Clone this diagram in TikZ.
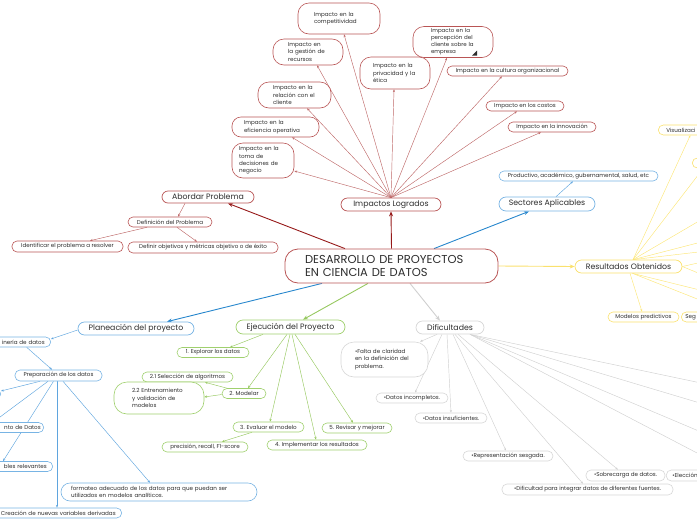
\documentclass[tikz,border=0pt]{standalone}
\usepackage{fontspec}
\setmainfont{Poppins}
\usetikzlibrary{arrows.meta}
\definecolor{txt}{RGB}{45,45,45}
\definecolor{rb}{RGB}{185,85,85}
\definecolor{rl}{RGB}{190,105,105}
\definecolor{rd}{RGB}{150,25,25}
\definecolor{bb}{RGB}{120,180,228}
\definecolor{bt}{RGB}{95,165,222}
\definecolor{bl}{RGB}{40,135,205}
\definecolor{gb}{RGB}{160,208,110}
\definecolor{gl}{RGB}{150,200,95}
\definecolor{yb}{RGB}{250,225,110}
\definecolor{yl}{RGB}{252,230,120}
\definecolor{gyb}{RGB}{215,215,215}
\definecolor{gyl}{RGB}{208,208,208}
\pgfdeclarelayer{bg}
\pgfsetlayers{bg,main}
\newcommand\myfs{\fontsize{5.6}{7.4}\selectfont}
\newcommand\myfm{\fontsize{7.8}{9}\selectfont}
\newcommand\myfl{\fontsize{11.5}{13.8}\selectfont}
\tikzset{
  bx/.style={draw, fill=white, line width=0.6pt, inner sep=0pt, text=txt, font=\myfs, align=center, minimum height=10pt,
    execute at begin node={\hyphenpenalty=10000\exhyphenpenalty=10000}},
  pill/.style={bx, rounded corners=5pt},
  big/.style={bx, rounded corners=6.5pt, font=\myfm, line width=0.7pt, minimum height=13pt},
  ml/.style={bx, rounded corners=11pt, align=left},
  con/.style={line width=0.45pt},
  tip/.style={-{Stealth[length=2.8pt,width=2.2pt]}},
  mainarr/.style={line width=0.9pt,-{Stealth[length=5pt,width=4pt]}},
}
\begin{document}
\begin{tikzpicture}[x=1pt,y=-1pt]
\useasboundingbox (0,0) rectangle (697,520);
\clip (0,0) rectangle (697,520);
% ---------- central
\node[bx, draw=rb, rounded corners=13pt, font=\myfl, align=left, text width=173pt, inner xsep=20pt, minimum height=34pt, line width=0.8pt] (c) at (391.5,266) {DESARROLLO DE PROYECTOS\\EN CIENCIA DE DATOS};
% ---------- impactos
\node[big, draw=rb, minimum width=100pt] (imp) at (391,204.5) {Impactos Logrados};
\node[ml, draw=rb, text width=50pt, inner xsep=16pt, minimum height=31pt] (imp1) at (339,18.5) {\mbox{Impacto en la}\\\mbox{competitividad}};
\node[ml, draw=rb, text width=40pt, inner xsep=15pt, minimum height=26pt] (imp2) at (308,52) {\mbox{Impacto en}\\\mbox{la gestión de}\\\mbox{recursos}};
\node[ml, draw=rb, text width=44pt, inner xsep=13pt, minimum height=32pt] (imp3) at (395,73) {\mbox{Impacto en la}\\\mbox{privacidad y la}\\\mbox{ética}};
\node[ml, draw=rb, text width=43pt, inner xsep=15pt, minimum height=26pt] (imp4) at (294.5,95) {\mbox{Impacto en la}\\\mbox{relación con el}\\\mbox{cliente}};
\node[ml, draw=rb, text width=63pt, inner xsep=12pt, minimum height=20pt, rounded corners=9pt] (imp5) at (275.5,127) {\mbox{Impacto en la}\\\mbox{eficiencia operativa}};
\node[ml, draw=rb, text width=48pt, inner xsep=7pt, minimum height=35pt] (imp6) at (263,160.5) {\mbox{Impacto en la}\\\mbox{toma de}\\\mbox{decisiones de}\\\mbox{negocio}};
\node[ml, draw=rb, text width=44pt, inner xsep=18pt, minimum height=31pt, font=\fontsize{5.5}{7}\selectfont] (imp7) at (453,42) {\mbox{Impacto en la}\\\mbox{percepción del}\\\mbox{cliente sobre la}\\\mbox{empresa}};
\fill[txt] (472,55.5) -- (477,55.5) -- (477,50.5) -- cycle;
\node[pill, draw=rb, minimum width=121pt] (imp8) at (507.5,71) {Impacto en la cultura organizacional};
\node[pill, draw=rb, minimum width=78pt] (imp9) at (525,106) {Impacto en los costos};
\node[pill, draw=rb, minimum width=88pt] (imp10) at (552,127) {Impacto en la innovación};
% ---------- abordar
\node[big, draw=rb, minimum width=92pt, minimum height=12pt, rounded corners=6pt] (ab) at (208,197) {Abordar Problema};
\node[pill, draw=rb, minimum width=84pt] (def) at (170,222) {Definición del Problema};
\node[pill, draw=rb, minimum width=111pt, minimum height=11pt] (idp) at (67.5,246.5) {Identificar el problema a resolver};
\node[pill, draw=rb, minimum width=150pt, minimum height=11pt] (dob) at (203,247.5) {Definir objetivos y métricas objetivo o de éxito};
% ---------- sectores
\node[big, draw=bb, minimum width=96pt, minimum height=14pt, rounded corners=7pt] (sec) at (547,204) {Sectores Aplicables};
\node[pill, draw=bb, minimum width=159pt] (prod) at (578.5,176) {Productivo, académico, gubernamental, salud, etc};
% ---------- resultados
\node[big, draw=yb, minimum width=107pt] (res) at (628.5,266.5) {Resultados Obtenidos};
\node[pill, draw=yb, minimum width=71pt] (mp) at (643.5,317) {Modelos predictivos};
\node[pill, draw=yb, anchor=west, text width=52pt, inner xsep=4pt, align=left] (seg) at (681,317) {Seg};
\node[pill, draw=yb, anchor=west, text width=52pt, inner xsep=8pt, align=left] (viz) at (658,130) {Visualizaci};
\node[pill, draw=yb, anchor=west, minimum width=60pt] (y2) at (692,163) {};
% ---------- planeacion
\node[big, draw=bb, minimum width=116pt] (pl) at (136,328.5) {Planeación del proyecto};
\node[pill, draw=bb, anchor=east, text width=60pt, inner xsep=6pt, align=right] (ing) at (51,342) {inería de datos};
\node[pill, draw=bb, minimum width=87pt, minimum height=11pt] (prep) at (58.5,375.5) {Preparación de los datos};
\node[pill, draw=bb, anchor=east, minimum width=60pt] (p1) at (1,394) {};
\node[pill, draw=bb, anchor=east, text width=60pt, inner xsep=3pt, align=right] (pdat) at (44,427.5) {nto de Datos};
\node[pill, draw=bb, anchor=east, text width=60pt, inner xsep=6pt, align=right] (prel) at (53,466.5) {bles relevantes};
\node[ml, draw=bb, text width=176pt, inner xsep=10pt, minimum height=18pt, rounded corners=9pt] (form) at (159,492) {\mbox{formateo adecuado de los datos para que puedan ser}\\\mbox{utilizados en modelos analíticos.}};
\node[pill, draw=bb, anchor=east, text width=130pt, inner xsep=6pt, align=right] (cre) at (122,513) {Creación de nuevas variables derivadas};
% ---------- ejecucion
\node[big, draw=gb, minimum width=109pt, minimum height=14pt, rounded corners=7pt] (ej) at (290.5,327) {Ejecución del Proyecto};
\node[pill, draw=gb, minimum width=72pt] (e1) at (213,352.5) {1. Explorar los datos};
\node[pill, draw=gb, minimum width=44pt] (e2) at (244,393.5) {2. Modelar};
\node[pill, draw=gb, minimum width=91pt] (e21) at (187.5,377) {2.1 Selección de algoritmos};
\node[ml, draw=gb, text width=54pt, inner xsep=18pt, minimum height=32pt, rounded corners=13pt] (e22) at (159,398) {\mbox{2.2 Entrenamiento}\\\mbox{y validación de}\\\mbox{modelos}};
\node[pill, draw=gb, minimum width=71pt] (e3) at (268.5,427) {3. Evaluar el modelo};
\node[pill, draw=gb, minimum width=86pt] (e3a) at (205,447) {precisión, recall, F1-score};
\node[pill, draw=gb, minimum width=100pt] (e4) at (317,445) {4. Implementar los resultados};
\node[pill, draw=gb, minimum width=70pt] (e5) at (357,428) {5. Revisar y mejorar};
% ---------- dificultades
\node[big, draw=gyb, minimum width=68pt] (dif) at (450,327.5) {Dificultades};
\node[ml, draw=gyb, text width=59pt, inner xsep=14pt, minimum height=35pt, rounded corners=13pt] (d1) at (384.5,359.5) {\mbox{•Falta de claridad}\\\mbox{en la definición del}\\\mbox{problema.}};
\node[pill, draw=gyb, minimum width=72pt] (d2) at (412,398) {•Datos incompletos.};
\node[pill, draw=gyb, minimum width=72pt] (d3) at (451,418) {•Datos insuficientes.};
\node[pill, draw=gyb, minimum width=90pt] (d4) at (508,456) {•Representación sesgada.};
\node[pill, draw=gyb, minimum width=79pt, minimum height=11pt] (d5) at (625.5,475.5) {•Sobrecarga de datos.};
\node[pill, draw=gyb, anchor=west, text width=52pt, inner xsep=6pt, align=left, minimum height=11pt] (d6) at (666,475.5) {•Elección};
\node[pill, draw=gyb, minimum width=171pt, minimum height=11pt] (d7) at (587.5,489.5) {•Dificultad para integrar datos de diferentes fuentes.};
% ---------- off-canvas ends
\coordinate (ry1) at (720,208.7);
\coordinate (ry2) at (720,237.2);
\coordinate (ry3) at (720,249.5);
\coordinate (ry4) at (720,258);
\coordinate (ry5) at (720,282);
\coordinate (ry6) at (720,295);
\coordinate (ry7) at (720,308);
\coordinate (dy1) at (720,387);
\coordinate (dy2) at (720,409);
\coordinate (dy3) at (720,440);
\coordinate (dy4) at (720,465);
\coordinate (pz) at (-8,423);
\begin{pgfonlayer}{bg}
\clip (0,0) rectangle (697,520);
% main arrows
\draw[mainarr, rd] ([xshift=-46.5pt]c.north) -- ([xshift=20pt]ab.south);
\draw[mainarr, rd] (c.north) -- (imp.south);
\draw[mainarr, bl] ([xshift=42.5pt]c.north) -- ([xshift=-18pt]sec.south);
\draw[mainarr, yb] (c.east) -- (res.west);
\draw[mainarr, bl] ([xshift=-69.5pt]c.south) -- ([xshift=31pt]pl.north);
\draw[mainarr, gl] ([xshift=-23.5pt]c.south) -- ([xshift=12.5pt]ej.north);
\draw[mainarr, gyl] ([xshift=18.5pt]c.south) -- ([xshift=-10pt]dif.north);
% impactos
\foreach \n/\s in {imp1/5, imp2/9, imp3/-1, imp4/12.5, imp5/16.5, imp7/-6, imp8/-5.5, imp9/-8, imp10/-11}
  \draw[con, rl, tip] (imp.north) -- ([xshift=\s pt]\n.south);
\draw[con, rl, tip] (imp.north) -- ([yshift=-10.5pt]imp6.east);
% abordar
\draw[con, rl, tip] ([xshift=-23pt]ab.south) -- ([xshift=8pt]def.north);
\draw[con, rl, tip] ([xshift=-23pt]def.south) -- ([xshift=22.5pt]idp.north);
\draw[con, rl, tip] ([xshift=7pt]def.south) -- ([xshift=-6pt]dob.north);
% sectores
\draw[con, bt, tip] ([xshift=9pt]sec.north) -- ([xshift=-5.5pt]prod.south);
% resultados
\draw[con, yl, tip] ([xshift=1.5pt]res.south) -- ([xshift=-1.5pt]mp.north);
\draw[con, yl, tip] ([xshift=4.5pt]res.north) -- ([xshift=-2pt]viz.south);
\draw[con, yl, tip] ([xshift=4.5pt]res.north) -- ([xshift=-19pt]y2.south);
\foreach \t in {ry1,ry2,ry3} \draw[con, yl] ([xshift=4.5pt]res.north) -- (\t);
\draw[con, yl] (res.east) -- (ry4);
\draw[con, yl] (res.east) -- (ry5);
\foreach \t in {ry6,ry7} \draw[con, yl] ([xshift=4pt]res.south) -- (\t);
% planeacion
\draw[con, bt, tip] ([yshift=-1.5pt]pl.west) -- ([yshift=3pt]ing.east);
\draw[con, bt, tip] ([xshift=12pt]ing.south) -- ([xshift=-6.5pt]prep.north);
\draw[con, bt, tip] ([xshift=-18.5pt]prep.south) -- ([yshift=3pt]p1.east);
\draw[con, bt, tip] ([xshift=-10.5pt]prep.south) -- (pz);
\draw[con, bt, tip] ([xshift=-5pt]prep.south) -- ([xshift=-50pt]prel.north east);
\draw[con, bt, tip] ([xshift=4.5pt]prep.south) -- ([xshift=-9pt]form.north);
\draw[con, bt, tip] ([xshift=-1.5pt]prep.south) -- ([xshift=-65pt]cre.north east);
% ejecucion
\draw[con, gl, tip] ([xshift=-27.5pt]ej.south) -- ([xshift=17pt]e1.north);
\draw[con, gl, tip] ([xshift=-3.5pt]ej.south) -- ([xshift=4pt]e2.north);
\draw[con, gl, tip] ([xshift=-17pt]e2.north) -- ([xshift=17.5pt]e21.south);
\draw[con, gl, tip] ([yshift=-1pt]e2.west) -- ([yshift=1pt]e22.east);
\draw[con, gl, tip] ([xshift=-0.5pt]ej.south) -- ([xshift=1.5pt]e3.north);
\draw[con, gl, tip] ([xshift=-16.5pt]e3.south) -- ([xshift=17pt]e3a.north);
\draw[con, gl, tip] ([xshift=1.5pt]ej.south) -- ([xshift=-1pt]e4.north);
\draw[con, gl, tip] ([xshift=4.5pt]ej.south) -- ([xshift=-4pt]e5.north);
% dificultades
\draw[con, gyl, tip] ([xshift=-13pt]dif.south) -- ([xshift=35.5pt]d1.north);
\draw[con, gyl, tip] ([xshift=-8pt]dif.south) -- ([xshift=3pt]d2.north);
\draw[con, gyl, tip] ([xshift=-3pt]dif.south) -- (d3.north);
\draw[con, gyl, tip] ([xshift=3pt]dif.south) -- ([xshift=-2pt]d4.north);
\draw[con, gyl, tip] ([xshift=5pt]dif.south) -- ([xshift=-4.5pt]d7.north);
\draw[con, gyl, tip] ([xshift=8pt]dif.south) -- ([xshift=-7.5pt]d5.north);
\foreach \t in {dy1,dy2,dy3,dy4} \draw[con, gyl] ([xshift=20pt]dif.south) -- (\t);
\end{pgfonlayer}
\end{tikzpicture}
\end{document}
